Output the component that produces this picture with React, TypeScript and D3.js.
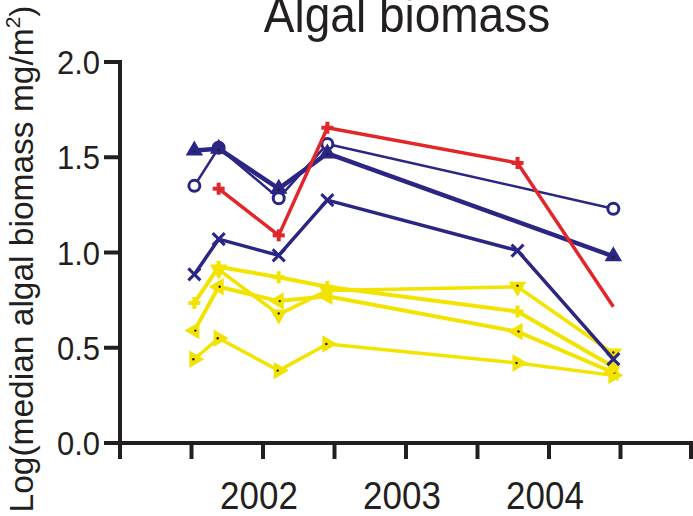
import React from 'react';
import * as d3 from 'd3';

// sampling dates (decimal years) and log median algal biomass per site
const sampleYears = [2001.52, 2001.69, 2002.11, 2002.45, 2003.78, 2004.45];

const blueCircle = [1.35, 1.55, 1.285, 1.57, null, 1.23];
const blueTriangle = [1.535, 1.545, 1.335, 1.52, null, 0.98];
const blueCross = [0.885, 1.07, 0.985, 1.275, 1.01, 0.44];
const redPlus = [null, 1.335, 1.09, 1.655, 1.47, 0.715];
const yellowPlus = [0.735, 0.925, 0.87, 0.82, 0.69, 0.4];
const yellowDown = [null, 0.91, 0.675, 0.8, 0.82, 0.47];
const yellowLeft = [0.59, 0.82, 0.745, 0.77, 0.585, 0.37];
const yellowRight = [0.44, 0.55, 0.38, 0.52, 0.42, 0.355];

const yTicks = [0, 0.5, 1.0, 1.5, 2.0];
const xTicks = [2001, 2001.5, 2002, 2002.5, 2003, 2003.5, 2004, 2004.5, 2005];
const xLabels = [2002, 2003, 2004];

const BLUE = '#2b2584';
const RED = '#e2262a';
const YELLOW = '#f2e400';
const INK = '#231f20';
const FONT = '"Liberation Sans", Arial, sans-serif';

type Series = {
  values: (number | null)[];
  color: string;
  width: number;
  marker: string;
  hideLast?: boolean;
};

const series: Series[] = [
  { values: yellowRight, color: YELLOW, width: 3.5, marker: 'triRight' },
  { values: yellowLeft, color: YELLOW, width: 4, marker: 'triLeft' },
  { values: yellowDown, color: YELLOW, width: 3.5, marker: 'triDown' },
  { values: yellowPlus, color: YELLOW, width: 4, marker: 'plus' },
  { values: blueCross, color: BLUE, width: 3.5, marker: 'cross' },
  { values: blueCircle, color: BLUE, width: 2.5, marker: 'circle' },
  { values: blueTriangle, color: BLUE, width: 4.5, marker: 'triUp' },
  { values: redPlus, color: RED, width: 3.5, marker: 'plus', hideLast: true },
];

const x = d3.scaleLinear().domain([2001, 2005]).range([120, 692]);
const y = d3.scaleLinear().domain([0, 2]).range([443, 62]);

const tri = d3.symbol().type(d3.symbolTriangle).size(95)();

function Marker({ kind, color, cx, cy }) {
  const t = `translate(${cx},${cy})`;
  if (kind === 'circle')
    return <circle cx={cx} cy={cy} r={5.5} fill="#fff" stroke={color} strokeWidth={3} />;
  if (kind === 'plus')
    return (
      <g transform={t} stroke={color} strokeWidth={4}>
        <line x1={-6} x2={6} y1={0} y2={0} />
        <line x1={0} x2={0} y1={-6} y2={6} />
      </g>
    );
  if (kind === 'cross')
    return (
      <g transform={t} stroke={color} strokeWidth={3}>
        <line x1={-6} x2={6} y1={-6} y2={6} />
        <line x1={-6} x2={6} y1={6} y2={-6} />
      </g>
    );
  const rot = { triUp: 0, triDown: 180, triLeft: -90, triRight: 90 }[kind];
  return (
    <g transform={`${t} rotate(${rot})`}>
      <path d={tri} fill={color} stroke={color} strokeWidth={1.5} />
      <circle r={1.2} cy={1} fill={INK} />
    </g>
  );
}

export default function App() {
  const line = d3.line<[number, number]>()
    .x(d => x(d[0]))
    .y(d => y(d[1]));

  return (
    <svg width={693} height={516} style={{ position: 'absolute', left: 0, top: 0, background: '#fff' }}
      fontFamily={FONT}>
      <text transform="translate(407,32) scale(1,1.1)" textAnchor="middle" fontSize={46} fill={INK}>
        Algal biomass
      </text>

      <text transform="translate(33,259) rotate(-90)" textAnchor="middle" fontSize={33.5} fill={INK}>
        Log(median algal biomass mg/m<tspan fontSize={21} dy={-13}>2</tspan><tspan dy={13}>)</tspan>
      </text>

      {/* y axis */}
      <line x1={120} x2={120} y1={60} y2={458} stroke={INK} strokeWidth={4} />
      {yTicks.map(v => (
        <g key={v}>
          <line x1={104} x2={120} y1={y(v)} y2={y(v)} stroke={INK} strokeWidth={4} />
          <text transform={`translate(100,${y(v) + 12}) scale(1,1.1)`} textAnchor="end" fontSize={31} fill={INK}>
            {v.toFixed(1)}
          </text>
        </g>
      ))}

      {/* x axis */}
      <line x1={104} x2={693} y1={443} y2={443} stroke={INK} strokeWidth={4} />
      {xTicks.map(v => (
        <line key={v} x1={Math.min(x(v), 691)} x2={Math.min(x(v), 691)} y1={443} y2={459} stroke={INK} strokeWidth={4} />
      ))}
      {xLabels.map(v => (
        <text key={v} transform={`translate(${x(v) - 4},509) scale(1,1.12)`} textAnchor="middle" fontSize={35} fill={INK}>
          {v}
        </text>
      ))}

      {series.map((s, i) => {
        const pts = sampleYears
          .map((yr, j) => [yr, s.values[j]] as [number, number | null])
          .filter(p => p[1] !== null) as [number, number][];
        return (
          <g key={i}>
            <path d={line(pts) ?? ''} fill="none" stroke={s.color} strokeWidth={s.width} strokeLinejoin="round" />
            {pts.map((p, j) =>
              s.hideLast && j === pts.length - 1 ? null : (
                <Marker key={j} kind={s.marker} color={s.color} cx={x(p[0])} cy={y(p[1])} />
              )
            )}
          </g>
        );
      })}
    </svg>
  );
}
